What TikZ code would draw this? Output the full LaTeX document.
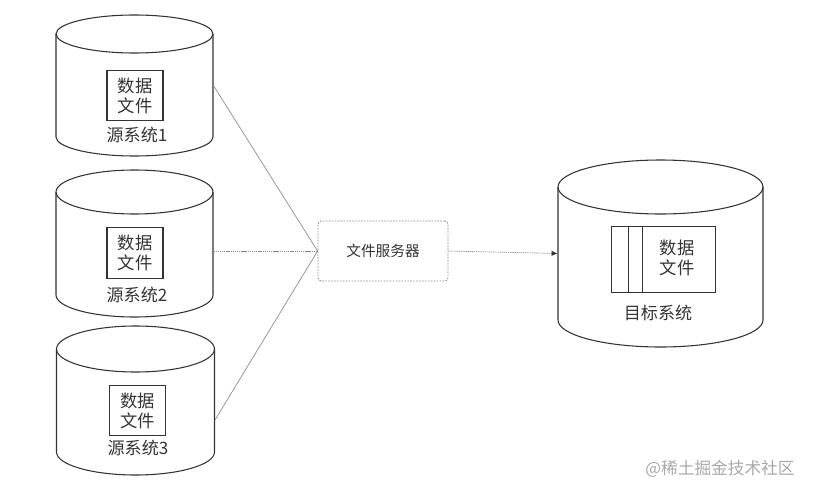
\documentclass[tikz,border=0pt]{standalone}
\usepackage{fontspec}
\newfontfamily\cjk{Noto Sans CJK SC}
\usetikzlibrary{arrows.meta}
\definecolor{ink}{HTML}{333333}
\definecolor{conn}{HTML}{8A8A8A}
\definecolor{wm}{HTML}{A8A8A8}
\newcommand\cylbody[5]{%
  \draw[cylline] ({#1-#2},#3) -- ({#1-#2},#4)
    arc[start angle=180,end angle=360,x radius={#2*0.75pt},y radius={#5*0.75pt}]
    -- ({#1+#2},#3);
  \draw[cylline] (#1,#3) ellipse[x radius={#2*0.75pt},y radius={#5*0.75pt}];
}
\tikzset{
  cylline/.style={draw=ink,line width=0.8pt},
  filebox/.style={draw=ink,line width=0.8pt,minimum width=42pt,minimum height=38pt,inner sep=0pt,
    align=center,font=\cjk\fontsize{13}{15}\selectfont,text=ink},
  syslabel/.style={font=\cjk\fontsize{12.8}{15}\selectfont,text=ink,inner sep=0pt},
  server/.style={draw=conn,dashed,dash pattern=on 1.2pt off 1pt,rounded corners=2.5pt,line width=0.6pt,
    minimum width=97.5pt,minimum height=45pt,font=\cjk\fontsize{11}{13}\selectfont,text=ink},
  conline/.style={draw=conn,line width=0.5pt},
  ghost/.style={inner sep=0pt,minimum width=118pt,minimum height=77pt}
}
\begin{document}
\begin{tikzpicture}[x=0.75pt,y=0.75pt]
\useasboundingbox (0,0) rectangle (813,494);
% source cylinders
\cylbody{134.5}{78.5}{460}{357}{19}
\cylbody{134.5}{78.5}{302}{199}{22}
\cylbody{135.5}{79}{145}{42}{23}
\node[ghost] (c1) at (134.5,408.5) {};
\node[ghost] (c2) at (134.5,243) {};
\node[ghost] (c3) at (135.5,93.5) {};
\coordinate (c3p) at (215,74);
\node[filebox] (f1) at (135,398.5) {数据\\文件};
\node[filebox] (f2) at (135,241) {数据\\文件};
\node[filebox] (f3) at (137.5,83.5) {数据\\文件};
\node[syslabel] (l1) at (137,359) {源系统1};
\node[syslabel] (l2) at (137,199) {源系统2};
\node[syslabel] (l3) at (138,46) {源系统3};
% target cylinder
\cylbody{660.5}{102.5}{307}{174}{27}
\node[inner sep=0pt,minimum width=154pt,minimum height=100pt] (tg) at (660.5,240.5) {};
\node[draw=ink,line width=0.7pt,minimum width=78pt,minimum height=49.5pt,inner sep=0pt] (tf) at (663,235) {};
\draw[ink,line width=0.7pt] (628,268) -- (628,202);
\draw[ink,line width=0.7pt] (642,268) -- (642,202);
\node[font=\cjk\fontsize{13}{15}\selectfont,text=ink,align=center,inner sep=0pt] (tt) at (677,236) {数据\\文件};
\node[syslabel] (tl) at (658,181) {目标系统};
% server
\node[server] (srv) at (383,243) {文件服务器};
% connectors
\draw[conline] (c1.east) -- (srv.west);
\draw[conline,dash pattern=on 1pt off 0.6pt] (c2.east) -- (srv.west);
\draw[conline] (c3p) -- (srv.west);
\draw[conline,dash pattern=on 1pt off 0.6pt,-{Latex[length=4.5pt,width=4pt,color=ink]}] (srv.east) -- (tg.west);
% watermark
\node[font=\cjk\fontsize{12.5}{14}\selectfont,text=wm,inner sep=0pt] (wmk) at (720,25) {@稀土掘金技术社区};
\end{tikzpicture}
\end{document}
